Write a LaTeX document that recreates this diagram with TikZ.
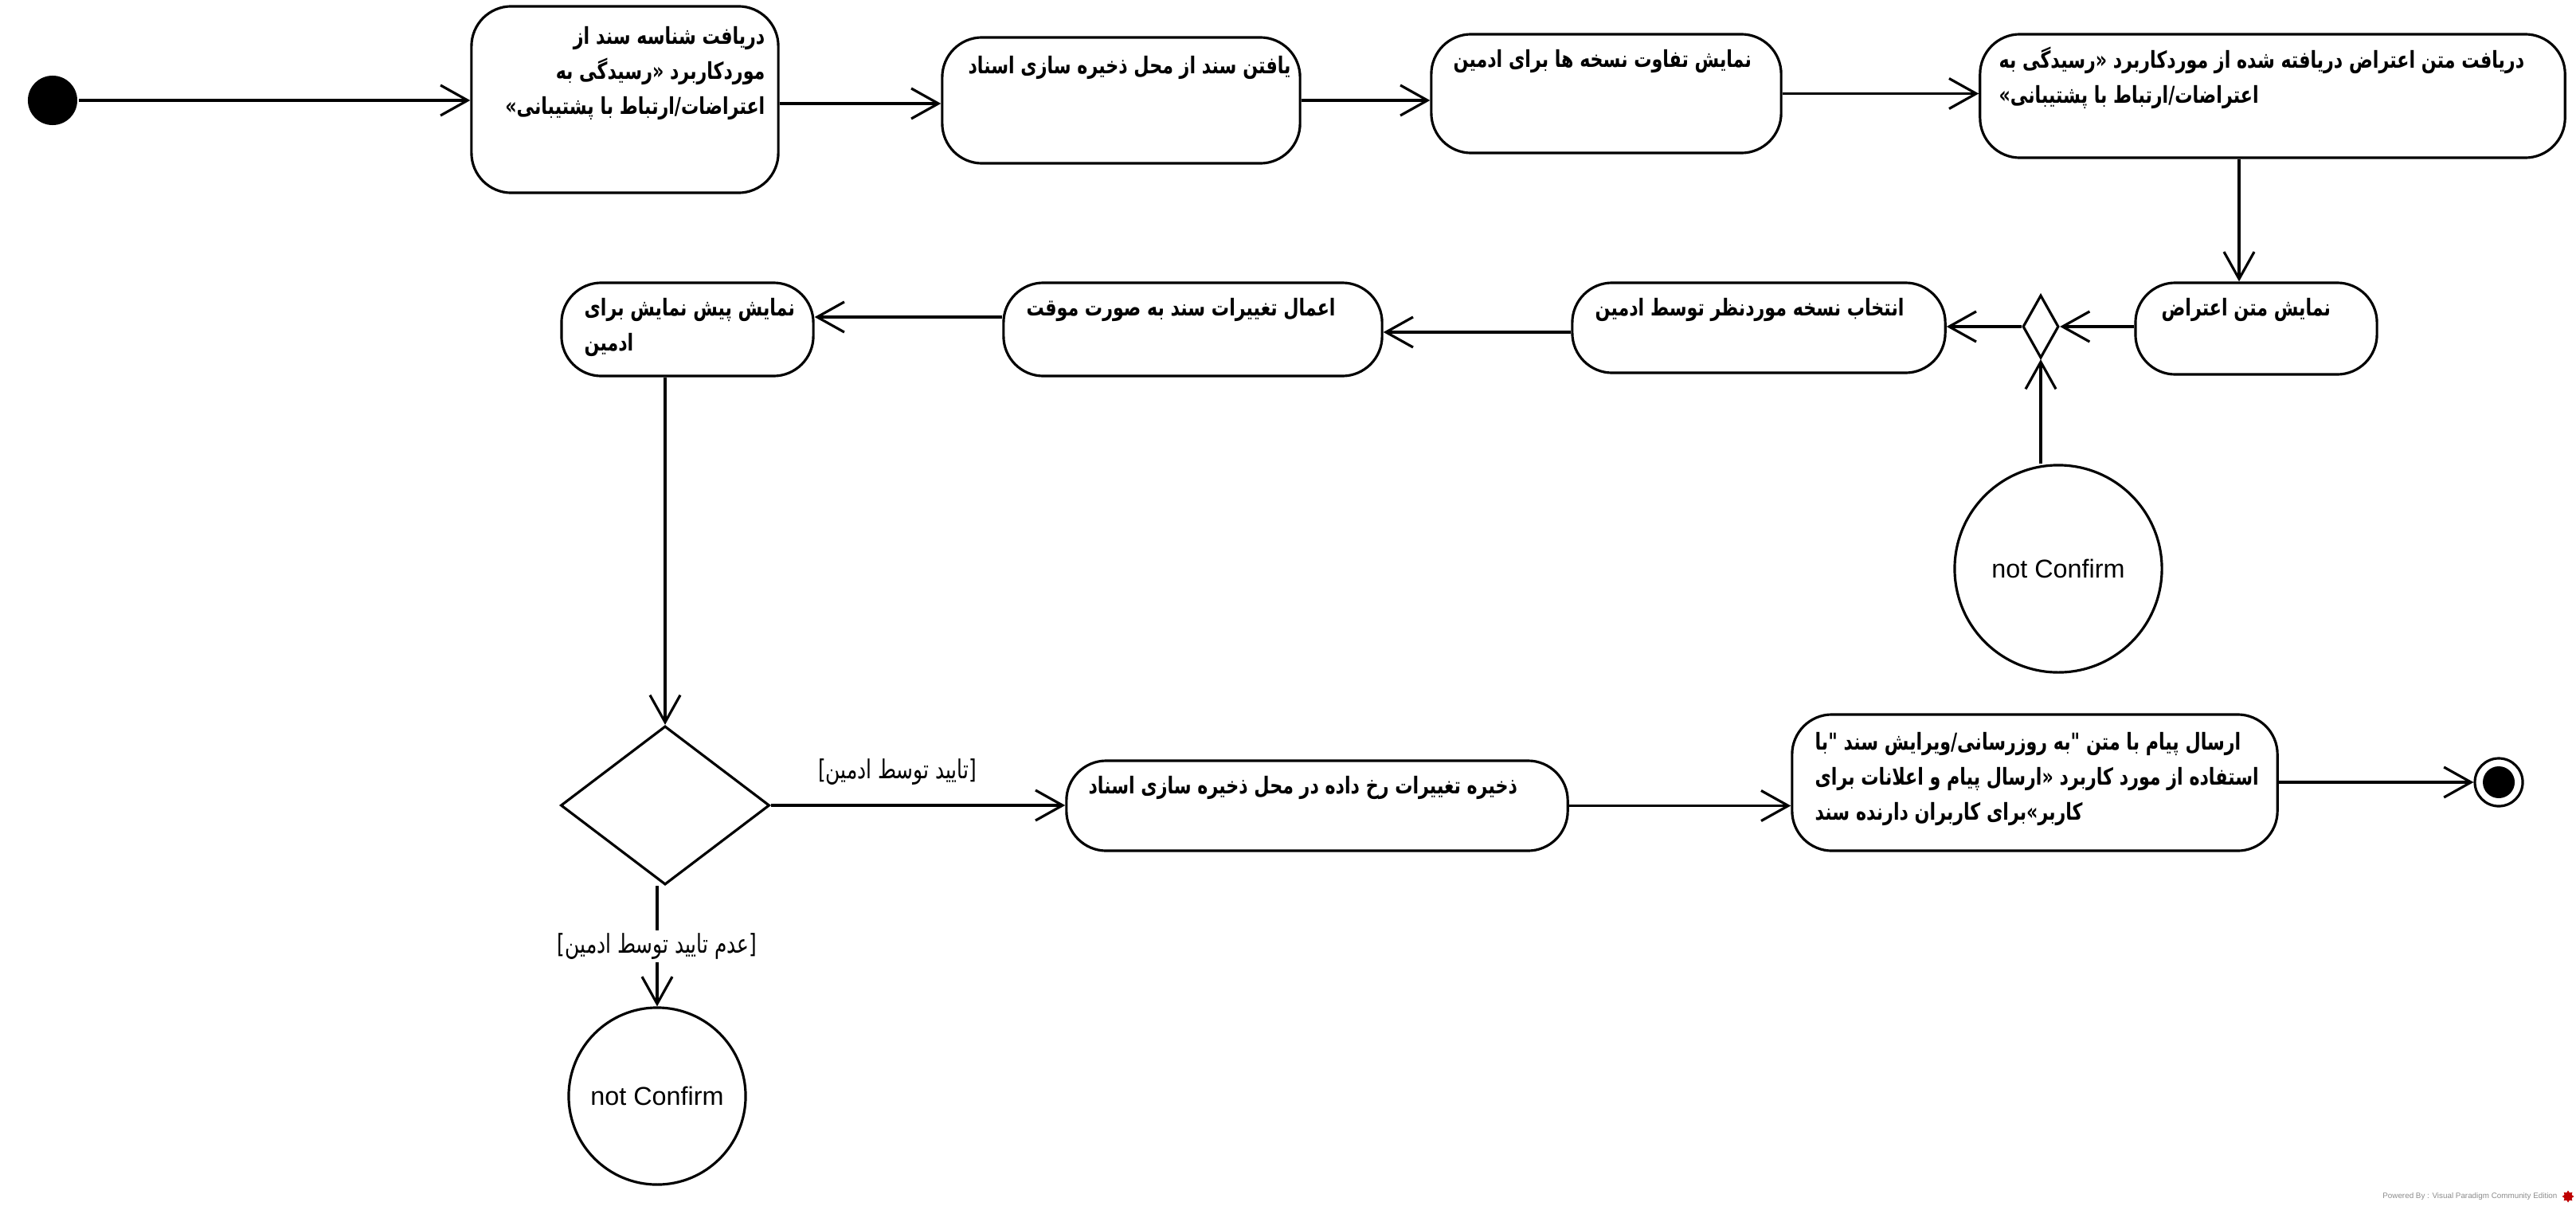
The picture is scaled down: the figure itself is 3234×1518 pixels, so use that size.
\documentclass[tikz,border=0pt]{standalone}
\usepackage{fontspec}
\setmainfont{Liberation Sans}
\newfontfamily\arabicfont[Script=Arabic, FakeStretch=0.76]{DejaVu Sans}
\TeXXeTstate=1
\usetikzlibrary{arrows.meta,shapes.geometric,calc}
\newcommand{\rl}[1]{\beginR #1\endR}

\begin{document}
\begin{tikzpicture}[x=0.01cm,y=-0.01cm,
  line width=0.9pt,
  flow/.style={-{Straight Barb[length=0.34cm,width=0.38cm,line width=0.9pt]}},
  actbox/.style={draw, rounded corners=0.5cm, inner sep=0pt},
  acttext/.style={inner sep=0pt, anchor=north west, align=left,
    font=\arabicfont\bfseries\fontsize{8.3}{12.5}\selectfont},
  guard/.style={inner sep=1pt, font=\arabicfont\fontsize{9.3}{10}\selectfont},
  endcircle/.style={draw, circle, inner sep=0pt, font=\fontsize{9.2}{11}\selectfont},
]
\useasboundingbox (0,0) rectangle (3234,1518);

% start and end
\node[circle, fill=black, minimum size=0.62cm, inner sep=0pt] (init) at (66,126) {};
\node[circle, draw, minimum size=0.6cm, inner sep=0pt] (final) at (3137,982) {};
\node[circle, fill=black, minimum size=0.4cm, inner sep=0pt] (finaldot) at (final.center) {};

% action boxes
\node[actbox, minimum width=3.85cm, minimum height=2.34cm] (b1) at (784.5,125) {};
\node[actbox, minimum width=4.49cm, minimum height=1.58cm] (b2) at (1407.5,126) {};
\node[actbox, minimum width=4.39cm, minimum height=1.49cm] (b3) at (2016.5,117.5) {};
\node[actbox, minimum width=7.34cm, minimum height=1.55cm] (b4) at (2853,120.5) {};
\node[actbox, minimum width=3.03cm, minimum height=1.15cm] (b5) at (2832.5,412.5) {};
\node[actbox, minimum width=4.68cm, minimum height=1.13cm] (b6) at (2208,411.5) {};
\node[actbox, minimum width=4.75cm, minimum height=1.17cm] (b7) at (1497.5,413.5) {};
\node[actbox, minimum width=3.16cm, minimum height=1.17cm] (b8) at (863,413.5) {};
\node[actbox, minimum width=6.29cm, minimum height=1.13cm] (b9) at (1653.5,1011.5) {};
\node[actbox, minimum width=6.09cm, minimum height=1.71cm] (b10) at (2554.5,982.5) {};

% box texts
\node[acttext, anchor=north east, align=right] (t1) at (962,32)
  {\rl{دریافت شناسه سند از}\\\rl{موردکاربرد «رسیدگی به}\\\rl{اعتراضات/ارتباط با پشتیبانی»}};
\node[acttext] (t2) at (1214,69) {\rl{یافتن سند از محل ذخیره سازی اسناد}};
\node[acttext] (t3) at (1823,61) {\rl{نمایش تفاوت نسخه ها برای ادمین}};
\node[acttext] (t4) at (2508,57)
  {\rl{دریافت متن اعتراض دریافته شده از موردکاربرد «رسیدگی به}\\\rl{اعتراضات/ارتباط با پشتیبانی»}};
\node[acttext] (t5) at (2712,373) {\rl{نمایش متن اعتراض}};
\node[acttext] (t6) at (2001,373) {\rl{انتخاب نسخه موردنظر توسط ادمین}};
\node[acttext] (t7) at (1287,373) {\rl{اعمال تغییرات سند به صورت موقت}};
\node[acttext] (t8) at (732,373) {\rl{نمایش پیش نمایش برای}\\\rl{ادمین}};
\node[acttext] (t9) at (1365,973) {\rl{ذخیره تغییرات رخ داده در محل ذخیره سازی اسناد}};
\node[acttext] (t10) at (2277,918)
  {\rl{ارسال پیام با متن "به روزرسانی/ویرایش سند "با}\\\rl{استفاده از مورد کاربرد «ارسال پیام و اعلانات برای}\\\rl{کاربر»برای کاربران دارنده سند}};

% merge and decision nodes
\node[diamond, draw, minimum width=0.45cm, minimum height=0.79cm, inner sep=0pt] (merge) at (2562,410) {};
\node[diamond, draw, minimum width=2.62cm, minimum height=1.99cm, inner sep=0pt] (dec) at (835,1011) {};

% flow final nodes
\node[endcircle, minimum size=2.6cm] (nc1) at (2584,714) {not Confirm};
\node[endcircle, minimum size=2.22cm] (nc2) at (825,1376) {not Confirm};

% connectors
\draw[flow] (init.east) -- (init.east -| b1.west);
\draw[flow] (b1.east |- 0,130) -- (b2.west |- 0,130);
\draw[flow] (b2.east) -- (b2.east -| b3.west);
\draw[flow] (b3.east) -- (b3.east -| b4.west);
\draw[flow] (b4.south -| 2811,0) -- (b5.north -| 2811,0);
\draw[flow] (b5.west |- merge.east) -- (merge.east);
\draw[flow] (merge.west) -- (merge.west -| b6.east);
\draw[flow] (b6.west |- 0,417) -- (b7.east |- 0,417);
\draw[flow] (b7.west |- 0,398) -- (b8.east |- 0,398);
\draw[flow] (nc1.north -| merge.south) -- (merge.south);
\draw[flow] (dec.north |- b8.south) -- (dec.north);
\draw[flow] (dec.east) -- (dec.east -| b9.west)
  node[guard, pos=0.43, above=0.2cm] (g1) {\rl{[تایید توسط ادمین]}};
\draw[flow] (nc2.north |- dec.south) -- (nc2.north)
  node[guard, fill=white, pos=0.5] (g2) {\rl{[عدم تایید توسط ادمین]}};
\draw[flow] (b9.east) -- (b9.east -| b10.west);
\draw[flow] (b10.east |- final.west) -- (final.west);

% footer
\node[inner sep=0pt, anchor=east, text=black!45, font=\fontsize{2.8}{3}\selectfont] (foot) at (3212,1502)
  {Powered By : Visual Paradigm Community Edition};
\node[star, star points=8, fill=red!75!black, minimum size=0.15cm, inner sep=0pt] (footicon) at (3224,1502) {};
\end{tikzpicture}
\end{document}
